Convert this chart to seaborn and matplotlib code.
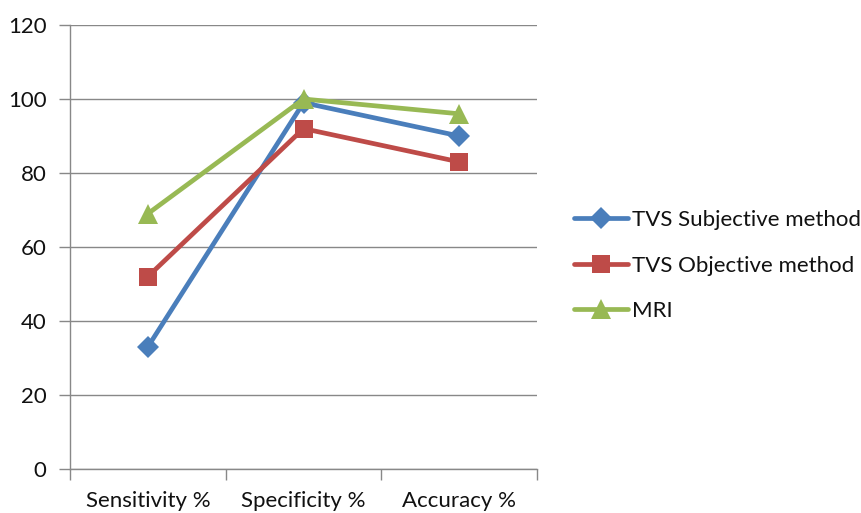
import matplotlib
matplotlib.use("Agg")
import matplotlib.pyplot as plt
import seaborn as sns
import pandas as pd
from matplotlib.ticker import FixedLocator, MultipleLocator

categories = ["Sensitivity %", "Specificity %", "Accuracy %"]
tvs_subjective = [33, 99, 90]
tvs_objective = [52, 92, 83]
mri = [69, 100, 96]
series_names = ["TVS Subjective method", "TVS Objective method", "MRI"]

rows = []
for name, vals in zip(series_names, [tvs_subjective, tvs_objective, mri]):
    for i, (cat, v) in enumerate(zip(categories, vals)):
        rows.append({"pos": i, "category": cat, "value": v, "series": name})
df = pd.DataFrame(rows)

sns.set_theme(style="white")
plt.rcParams["font.family"] = ["Lato", "DejaVu Sans"]

palette = {"TVS Subjective method": "#4A7EBB",
           "TVS Objective method": "#BE4B48",
           "MRI": "#98B954"}
markers = {"TVS Subjective method": "D",
           "TVS Objective method": "s",
           "MRI": "^"}
msize = {"TVS Subjective method": 11,
         "TVS Objective method": 13,
         "MRI": 14}

fig = plt.figure(figsize=(8.61, 5.13), dpi=100)
ax = fig.add_axes([70 / 861, 44 / 513, 467 / 861, 444 / 513])

for name in series_names:
    sub = df[df["series"] == name]
    sns.lineplot(data=sub, x="pos", y="value", ax=ax, color=palette[name],
                 linewidth=3.4, marker=markers[name], markersize=msize[name],
                 markeredgewidth=0, label=name, sort=False)

ax.set_xlim(-0.5, 2.5)
ax.set_ylim(0, 120)
ax.yaxis.set_major_locator(MultipleLocator(20))
ax.set_xticks(range(len(categories)))
ax.set_xticklabels(categories)
ax.xaxis.set_minor_locator(FixedLocator([-0.5, 0.5, 1.5, 2.5]))
ax.set_xlabel("")
ax.set_ylabel("")

grid_color = "#888888"
ax.grid(axis="y", color=grid_color, linewidth=1.0)
ax.grid(axis="x", visible=False)
ax.set_axisbelow(True)
for side in ["top", "right"]:
    ax.spines[side].set_visible(False)
ax.spines["left"].set_color(grid_color)
ax.spines["bottom"].set_color(grid_color)
ax.spines["left"].set_linewidth(1.0)
ax.spines["bottom"].set_linewidth(1.0)

ax.tick_params(axis="y", which="major", length=8, width=1.0, color=grid_color,
               direction="out", labelsize=16, pad=9, left=True, labelcolor="#111111")
ax.tick_params(axis="x", which="major", length=0, labelsize=16, pad=16,
               labelcolor="#111111")
ax.tick_params(axis="x", which="minor", length=8, width=1.0, color=grid_color,
               direction="out", bottom=True)

leg = ax.legend(loc="center left", bbox_to_anchor=(1.055, 0.458), frameon=False,
                fontsize=16, handlelength=2.45, handletextpad=0.15,
                labelspacing=1.15, borderpad=0)
for t in leg.get_texts():
    t.set_color("#111111")

fig.savefig("out.png", dpi=100)
